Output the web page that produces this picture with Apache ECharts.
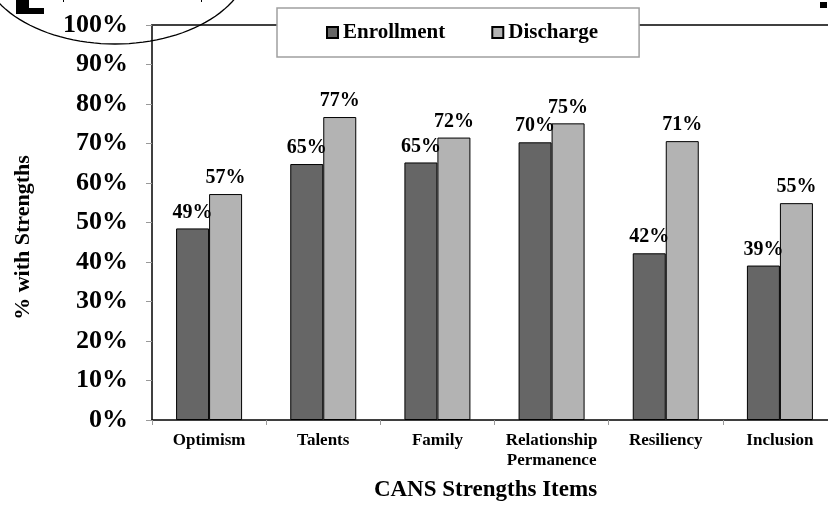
<!DOCTYPE html>
<html>
<head>
<meta charset="utf-8">
<script src="https://cdn.jsdelivr.net/npm/echarts@6/dist/echarts.min.js"></script>
<style>html,body{margin:0;padding:0;background:#fff;overflow:hidden}#c{width:837px;height:510px}</style>
</head>
<body>
<div id="c"></div>
<script>
var categories = ['Optimism', 'Talents', 'Family', 'Relationship\nPermanence', 'Resiliency', 'Inclusion'];
var enrollment = [48.5, 64.8, 65.2, 70.3, 42.2, 39.1];
var discharge = [57.2, 76.7, 71.5, 75.1, 70.6, 54.9];
var seriesNames = ['Enrollment', 'Discharge'];
var yTicks = {min: 0, max: 100, interval: 10};

var FONT = '"Liberation Serif", "Times New Roman", serif';
var chart = echarts.init(document.getElementById('c'), null, {renderer: 'canvas'});

// decorative ellipse arc (cropped slide artifact)
var ell = [];
for (var a = 0; a <= 180; a += 3) {
  var t = a * Math.PI / 180;
  ell.push([115 + 135 * Math.cos(t), -40 + 84 * Math.sin(t)]);
}

function lbl() {
  return {
    show: true, position: 'top', distance: 6,
    fontFamily: FONT, fontWeight: 'bold', fontSize: 20, color: '#000',
    formatter: function (p) { return Math.round(p.value) + '%'; }
  };
}

chart.setOption({
  animation: false,
  backgroundColor: '#fff',
  grid: {left: 152, top: 25, bottom: 90, right: 0, containLabel: false},
  legend: {
    data: seriesNames,
    left: 277, top: 8,
    padding: [14, 41, 14, 49],
    itemGap: 46, itemWidth: 11, itemHeight: 11,
    backgroundColor: '#fff', borderColor: '#a0a0a0', borderWidth: 1.5,
    icon: 'rect',
    textStyle: {fontFamily: FONT, fontWeight: 'bold', fontSize: 21, color: '#000'}
  },
  xAxis: [{
    type: 'category', data: categories,
    axisLine: {lineStyle: {color: '#000', width: 1.5}},
    axisTick: {show: true, length: 5, lineStyle: {color: '#999'}},
    axisLabel: {fontFamily: FONT, fontWeight: 'bold', fontSize: 17, color: '#000', margin: 11, lineHeight: 20, interval: 0},
    name: 'CANS Strengths Items', nameLocation: 'middle', nameGap: 59, nameMoveOverlap: false,
    nameTextStyle: {fontFamily: FONT, fontWeight: 'bold', fontSize: 23, color: '#000', padding: [0, 18, 0, 0]}
  }, {
    type: 'category', data: categories, position: 'top',
    axisLine: {show: true, lineStyle: {color: '#404040', width: 2}},
    axisTick: {show: false}, axisLabel: {show: false}
  }],
  yAxis: {
    type: 'value', min: yTicks.min, max: yTicks.max, interval: yTicks.interval,
    axisLine: {show: true, lineStyle: {color: '#000', width: 1.5}},
    axisTick: {show: true, length: 6, lineStyle: {color: '#999'}},
    splitLine: {show: false},
    axisLabel: {fontFamily: FONT, fontWeight: 'bold', fontSize: 26, color: '#000', margin: 24, formatter: '{value}%'},
    name: '% with Strengths', nameLocation: 'middle', nameGap: 118, nameRotate: 90, nameMoveOverlap: false,
    nameTextStyle: {fontFamily: FONT, fontWeight: 'bold', fontSize: 22, color: '#000', padding: [0, 30, 0, 0]}
  },
  series: [{
    name: seriesNames[0], type: 'bar', data: enrollment,
    barWidth: 33, barGap: '0%',
    itemStyle: {color: '#666666', borderColor: '#000', borderWidth: 1},
    label: lbl()
  }, {
    name: seriesNames[1], type: 'bar', data: discharge,
    barWidth: 33, barGap: '0%',
    itemStyle: {color: '#b3b3b3', borderColor: '#000', borderWidth: 1},
    label: lbl()
  }],
  graphic: [
    {type: 'polyline', shape: {points: ell}, style: {stroke: '#000', lineWidth: 1.3, fill: null}, z: 10},
    {type: 'polygon', shape: {points: [[16,0],[29,0],[29,8],[44,8],[44,14],[16,14]]}, style: {fill: '#000'}, z: 10},
    {type: 'rect', shape: {x: 820, y: 2, width: 7, height: 6}, style: {fill: '#000'}, z: 10},
    {type: 'rect', shape: {x: 63, y: 0, width: 1, height: 2}, style: {fill: '#000'}, z: 10},
    {type: 'rect', shape: {x: 201, y: 0, width: 1, height: 2}, style: {fill: '#000'}, z: 10}
  ]
});
</script>
</body>
</html>
